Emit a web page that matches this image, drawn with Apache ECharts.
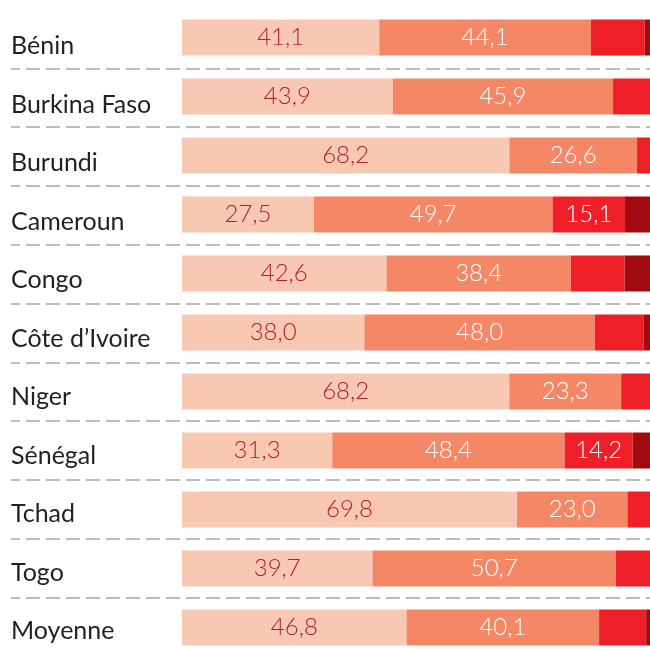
<!DOCTYPE html>
<html>
<head>
<meta charset="utf-8">
<style>
  html, body { margin: 0; padding: 0; background: #fff; }
  #chart { width: 650px; height: 649px; }
</style>
<script src="https://cdn.jsdelivr.net/npm/echarts@6/dist/echarts.min.js"></script>
</head>
<body>
<div id="chart"></div>
<script>
const countries = ['Bénin', 'Burkina Faso', 'Burundi', 'Cameroun', 'Congo', 'Côte d’Ivoire',
  'Niger', 'Sénégal', 'Tchad', 'Togo', 'Moyenne'];
const seg1 = [41.1, 43.9, 68.2, 27.5, 42.6, 38.0, 68.2, 31.3, 69.8, 39.7, 46.8];
const seg2 = [44.1, 45.9, 26.6, 49.7, 38.4, 48.0, 23.3, 48.4, 23.0, 50.7, 40.1];
const seg3 = [11.2, 10.2, 5.2, 15.1, 11.2, 10.2, 8.5, 14.2, 7.2, 9.6, 9.8];
const seg4 = [3.6, 0, 0, 7.7, 7.8, 3.8, 0, 6.1, 0, 0, 3.3];

const colors = ['#F9C8B3', '#F48866', '#EE1F27', '#A00B12'];
const labelColors = ['#B01E28', '#ffffff', '#ffffff', '#ffffff'];
const fontFamily = 'Lato, "Open Sans", sans-serif';

function fmt(v) {
  return v.toFixed(1).replace('.', ',');
}

function makeSeries(values, idx, minShow) {
  return {
    type: 'bar',
    stack: 'total',
    barWidth: 36,
    xAxisIndex: 0,
    yAxisIndex: 0,
    clip: true,
    itemStyle: { color: colors[idx] },
    label: {
      show: true,
      position: 'inside',
      color: labelColors[idx],
      fontFamily,
      fontWeight: 300,
      fontSize: 24,
      formatter: (p) => (p.value >= minShow ? fmt(p.value) : ''),
    },
    data: values,
  };
}

const hiddenAxis = {
  axisLine: { show: false },
  axisTick: { show: false },
  axisLabel: { show: false },
  splitLine: { show: false },
};

const chart = echarts.init(document.getElementById('chart'));
chart.setOption({
  animation: false,
  grid: [
    // bars: first and last category at the grid edges
    { left: 182, right: 0, top: 37.5, height: 590 },
    // dashed separators between rows
    { left: 11, right: 0, top: 68.3, height: 529.2 },
    // country names
    { left: 11, right: 0, top: 46, height: 585 },
  ],
  xAxis: [
    { type: 'value', min: 0, max: 97.5, gridIndex: 0, show: false },
    { type: 'value', min: 0, max: 1, gridIndex: 1, show: false },
    { type: 'value', min: 0, max: 1, gridIndex: 2, show: false },
  ],
  yAxis: [
    {
      type: 'category',
      data: countries,
      inverse: true,
      boundaryGap: false,
      gridIndex: 0,
      ...hiddenAxis,
    },
    {
      type: 'category',
      data: countries.slice(1),
      inverse: true,
      boundaryGap: false,
      gridIndex: 1,
      ...hiddenAxis,
      splitLine: {
        show: true,
        interval: 0,
        lineStyle: { color: '#A6A6A6', width: 1.5, type: [14, 6], dashOffset: 5 },
      },
    },
    {
      type: 'category',
      data: countries,
      inverse: true,
      boundaryGap: false,
      gridIndex: 2,
      ...hiddenAxis,
      axisLabel: {
        show: true,
        interval: 0,
        align: 'left',
        margin: 0,
        fontSize: 25,
        color: '#231F20',
        fontFamily,
      },
    },
  ],
  series: [
    makeSeries(seg1, 0, 0),
    makeSeries(seg2, 1, 0),
    makeSeries(seg3, 2, 12),
    makeSeries(seg4, 3, 100),
  ],
});
</script>
</body>
</html>
